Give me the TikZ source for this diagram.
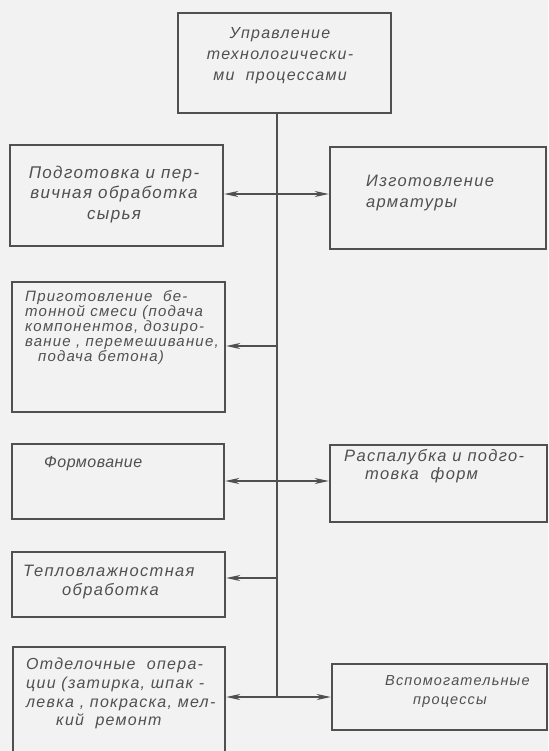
\documentclass[tikz,border=0pt]{standalone}
\usepackage{fontspec}
\newfontfamily\gost{Liberation Sans}[LetterSpace=8]
\newfontfamily\gostnarrow{Liberation Sans}[LetterSpace=3]
\usetikzlibrary{arrows.meta}
\definecolor{ink}{HTML}{505050}
\definecolor{paper}{HTML}{F2F2F2}
\newcommand{\gfont}[2]{\gost\itshape\fontsize{#1}{#2}\selectfont}
\begin{document}
\begin{tikzpicture}[x=1pt,y=-1pt,
  blk/.style={draw=ink, line width=2.4pt, rectangle, inner sep=0pt},
  lbl/.style={text=ink, font=\gfont{16}{19.5},
              align=left, anchor=north west, inner sep=0pt},
  link/.style={draw=ink, line width=1.4pt},
  arr/.style={link, -{Stealth[length=14pt,width=6pt,inset=4pt]}}]

% sheet
\fill[paper] (0,0) rectangle (548,751);
\useasboundingbox (0,0) rectangle (548,751);

% blocks
\node[blk, minimum width=213pt, minimum height=100pt] (top) at (284.5,63) {};
\node[blk, minimum width=213pt, minimum height=101pt] (b1) at (116.5,195.5) {};
\node[blk, minimum width=216pt, minimum height=102pt] (b2) at (438,198) {};
\node[blk, minimum width=213pt, minimum height=130pt] (b3) at (118.5,347) {};
\node[blk, minimum width=212pt, minimum height=75pt] (b4) at (118,481.5) {};
\node[blk, minimum width=217pt, minimum height=77pt] (b5) at (438.5,483.5) {};
\node[blk, minimum width=213pt, minimum height=65pt] (b6) at (118.5,584.5) {};
\node[blk, minimum width=212pt, minimum height=120pt] (b7) at (119,707) {};
\node[blk, minimum width=215pt, minimum height=66pt] (b8) at (439.5,697) {};

% labels
\node[lbl, align=center, anchor=north, font=\gfont{16}{21}] (t0) at (280,27)
  {Управление\\технологически-\\ми\ \ процессами};
\node[lbl, align=center, anchor=north, font=\gfont{17}{20.5}] (t1) at (114,165.5)
  {Подготовка и пер-\\вичная обработка\\сырья};
\node[lbl, font=\gfont{16.5}{21}] (t2) at (366,175) {Изготовление\\арматуры};
\node[lbl, font=\gfont{15}{15}] (t3) at (25,290.5)
  {Приготовление\ \ бе-\\тонной смеси (подача\\компонентов, дозиро-\\вание , перемешивание,\\\hspace*{13pt}подача бетона)};
\node[lbl, font=\gostnarrow\itshape\fontsize{16}{18}\selectfont] (t4) at (44,456) {Формование};
\node[lbl, font=\gfont{16.5}{18}] (t5) at (344,449) {Распалубка и подго-\\\hspace*{21pt}товка\ \ форм};
\node[lbl, font=\gfont{16.5}{19}] (t6) at (23,565) {Тепловлажностная\\\hspace*{39pt}обработка};
\node[lbl, font=\gfont{16}{18.7}] (t7) at (26,658)
  {Отделочные\ \ опера-\\ции (затирка, шпак -\\левка , покраска, мел-\\\hspace*{30pt}кий\ \ ремонт};
\node[lbl, font=\gfont{14.5}{19}] (t8) at (385,675) {Вспомогательные\\\hspace*{28pt}процессы};

% spine and branch points
\coordinate (s0) at (277,194);
\coordinate (s1) at (277,346);
\coordinate (s2) at (277,481);
\coordinate (s3) at (277,578);
\coordinate (s4) at (277,697);
\draw[link] (top.south -| s0) -- (s4);

% branches
\draw[arr] (s0) -- (b1.east |- s0);
\draw[arr] (s0) -- (b2.west |- s0);
\draw[arr] (s1) -- (b3.east |- s1);
\draw[arr] (s2) -- (b4.east |- s2);
\draw[arr] (s2) -- (b5.west |- s2);
\draw[arr] (s3) -- (b6.east |- s3);
\draw[arr] (s4) -- (b7.east |- s4);
\draw[arr] (s4) -- (b8.west |- s4);
\end{tikzpicture}
\end{document}
